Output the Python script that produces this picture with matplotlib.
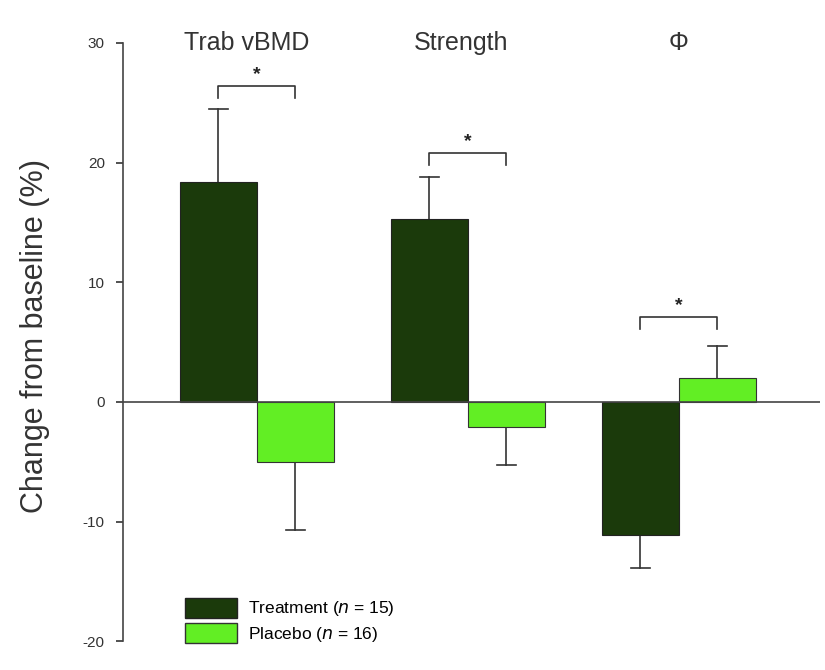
import matplotlib
matplotlib.use("Agg")
from matplotlib import pyplot as plt
from matplotlib.patches import Patch

plt.rcParams['font.family'] = ['Liberation Sans', 'DejaVu Sans']
plt.rcParams['axes.unicode_minus'] = False

groups = ['Trab vBMD', 'Strength', '\u03a6']
treatment = [18.4, 15.3, -11.1]
treatment_err = [6.1, 3.5, 2.8]
placebo = [-5.0, -2.1, 2.0]
placebo_err = [5.7, 3.2, 2.7]
bracket_y = [26.4, 20.8, 7.1]
legend_labels = ['Treatment ($\\it{n}$ = 15)', 'Placebo ($\\it{n}$ = 16)']

dark = '#1b3a0b'
light = '#62ee24'
width = 0.365

fig = plt.figure(figsize=(8.25, 6.7), dpi=100)
ax = fig.add_axes([0.149, 0.043, 0.845, 0.893])

for i in range(len(groups)):
    xt = i - width / 2
    xp = i + width / 2
    ax.bar(xt, treatment[i], width, color=dark, edgecolor='#222222', linewidth=0.8, zorder=2)
    ax.bar(xp, placebo[i], width, color=light, edgecolor='#333333', linewidth=0.8, zorder=2)

    # one-sided error bars pointing away from zero
    for x, v, e in ((xt, treatment[i], treatment_err[i]), (xp, placebo[i], placebo_err[i])):
        end = v + e if v >= 0 else v - e
        ax.plot([x, x], [v, end], color='#333333', lw=1.2, zorder=1)
        ax.plot([x - 0.045, x + 0.045], [end, end], color='#333333', lw=1.2, zorder=1)

    # significance bracket
    by = bracket_y[i]
    ax.plot([xt, xt, xp, xp], [by - 1.0, by, by, by - 1.0], color='#333333', lw=1.2)
    ax.text(i, by + 0.2, '*', ha='center', va='bottom', fontsize=14, fontweight='bold',
            color='#222222')

label_x = [-0.05, -0.03, 0.0]
for i, name in enumerate(groups):
    ax.text(i + label_x[i], 30, name, ha='center', va='center', fontsize=18, color='#333333')

ax.axhline(0, color='#444444', lw=1.2, zorder=3)
ax.set_xlim(-0.635, 2.67)
ax.set_ylim(-20, 30)
ax.set_yticks([-20, -10, 0, 10, 20, 30])
ax.set_xticks([])
ax.tick_params(axis='y', labelsize=11, colors='#333333', length=5, width=1.2, pad=8)
for s in ('top', 'right', 'bottom'):
    ax.spines[s].set_visible(False)
ax.spines['left'].set_color('#444444')
ax.spines['left'].set_linewidth(1.2)
ax.set_ylabel('Change from baseline (%)', fontsize=22, color='#333333')
ax.yaxis.set_label_coords(-0.105, 0.51)

handles = [Patch(facecolor=dark, edgecolor='#222222'), Patch(facecolor=light, edgecolor='#333333')]
ax.legend(handles, legend_labels, loc='lower left', bbox_to_anchor=(0.067, -0.03),
          frameon=False, fontsize=12.5, handlelength=3.0, handleheight=1.4, labelspacing=0.25,
          handletextpad=0.6)

fig.savefig('out.png', dpi=100)
